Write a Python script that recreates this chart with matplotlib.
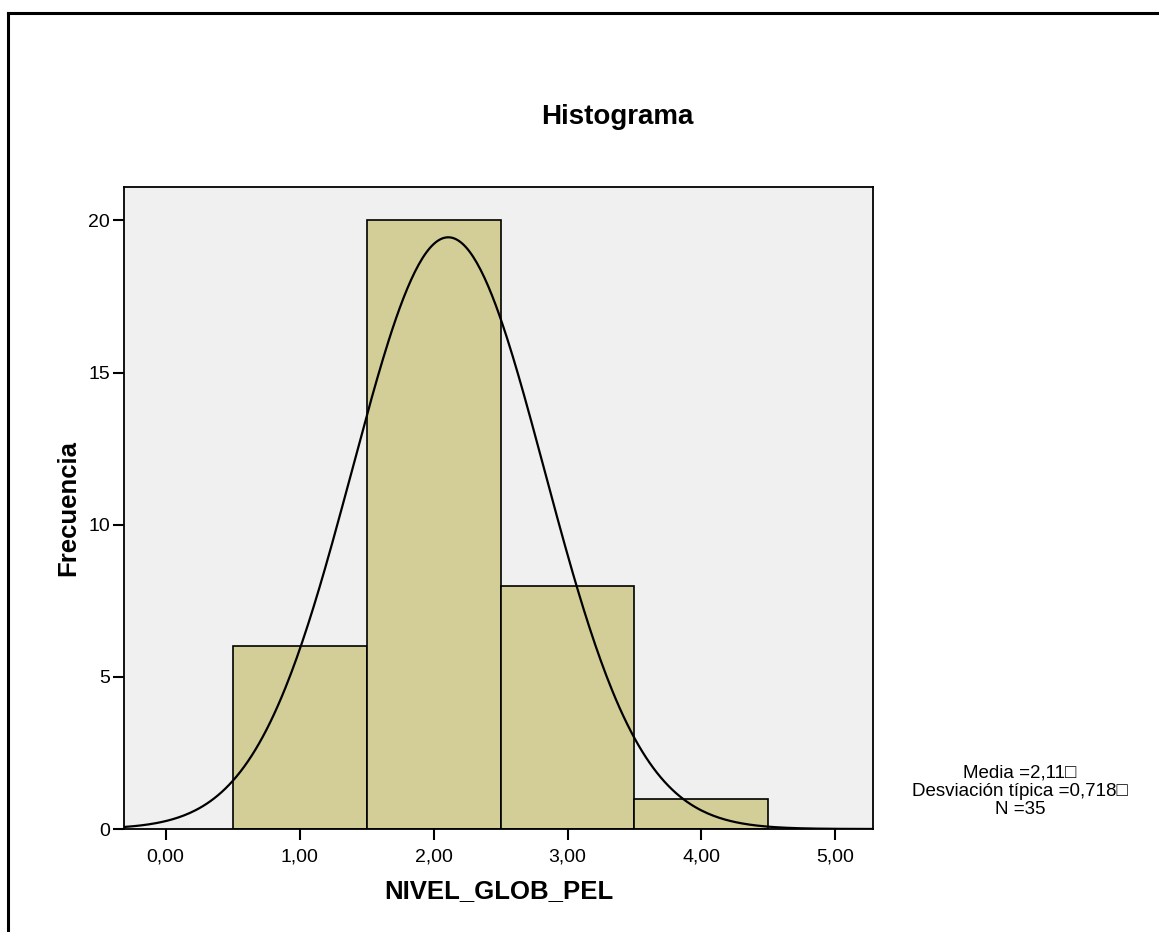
import matplotlib.pyplot as plt
import numpy as np
from matplotlib.lines import Line2D

plt.rcParams['font.family'] = ['Liberation Sans', 'DejaVu Sans']

# histogram data (SPSS output)
bin_edges = [0.5, 1.5, 2.5, 3.5, 4.5]
counts = [6, 20, 8, 1]
media = 2.11
desv = 0.718
n = 35
x_ticks = [0, 1, 2, 3, 4, 5]
x_labels = ['0,00', '1,00', '2,00', '3,00', '4,00', '5,00']
y_ticks = [0, 5, 10, 15, 20]

fig = plt.figure(figsize=(11.59, 9.32), dpi=100)
ax = fig.add_axes([124/1159, 1 - 829/932, 749/1159, 642/932])
ax.set_facecolor('#f0f0f0')

widths = np.diff(bin_edges)
ax.bar(bin_edges[:-1], counts, width=widths, align='edge',
       color='#d3ce97', edgecolor='black', linewidth=1.2, zorder=2)

# normal curve scaled to counts
xs = np.linspace(-0.31, 5.28, 400)
bw = widths[0]
ys = n * bw / (desv * np.sqrt(2 * np.pi)) * np.exp(-0.5 * ((xs - media) / desv) ** 2)
ax.plot(xs, ys, color='black', linewidth=1.6, zorder=3)

ax.set_xlim(-0.31, 5.28)
ax.set_ylim(0, 21.1)
ax.set_xticks(x_ticks)
ax.set_xticklabels(x_labels)
ax.set_yticks(y_ticks)
ax.tick_params(direction='out', length=8, width=1.5, labelsize=14)
ax.tick_params(axis='x', pad=6)
ax.tick_params(axis='y', pad=2)
for s in ax.spines.values():
    s.set_linewidth(1.3)

ax.set_xlabel('NIVEL_GLOB_PEL', fontsize=18.5, fontweight='bold', labelpad=10)
ax.set_ylabel('Frecuencia', fontsize=18.5, fontweight='bold', labelpad=6)

fig.text(617/1159, 1 - 117/932, 'Histograma', fontsize=20, fontweight='bold',
         ha='center', va='center')

fig.text(1020/1159, 1 - 791/932,
         'Media =2,11\u25a1\nDesviación típica =0,718\u25a1\nN =35',
         fontsize=13.5, ha='center', va='center', multialignment='center',
         linespacing=1.1)

# frame lines on top and left like the original export
fig.add_artist(Line2D([7.5/1159, 7.5/1159], [0, 1 - 12.5/932], color='black', linewidth=2.2))
fig.add_artist(Line2D([7.5/1159, 1], [1 - 12.5/932, 1 - 12.5/932], color='black', linewidth=2.2))

plt.savefig('out.png', dpi=100)
